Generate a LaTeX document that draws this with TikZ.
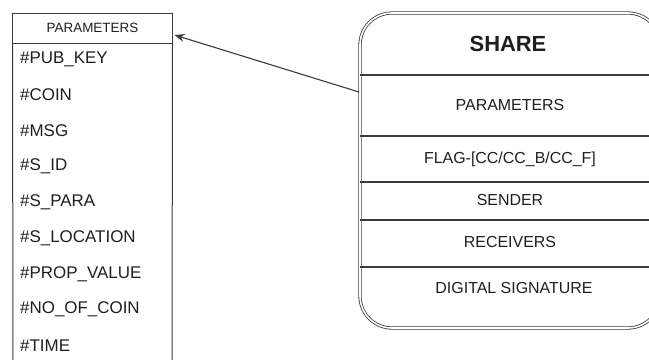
\documentclass[tikz,border=0pt]{standalone}
\usepackage{fontspec}
\setmainfont{Liberation Sans}
\usetikzlibrary{arrows.meta}
\definecolor{linegray}{HTML}{3A3A3A}
\definecolor{textgray}{HTML}{1E1E1E}
\begin{document}
\begin{tikzpicture}[x=1bp,y=-1bp,
  head_node/.style={draw=linegray,line width=1bp,minimum width=159bp,minimum height=30bp,inner sep=0pt,text=textgray,font=\fontsize{13.5}{15}\selectfont},
  item_node/.style={anchor=west,inner sep=0pt,text=textgray,font=\fontsize{17}{19}\selectfont},
  share_box/.style={draw=linegray,double=white,double distance=1.6bp,line width=0.8bp,rounded corners=32bp,minimum width=300bp,minimum height=315bp,inner sep=0pt},
  row_node/.style={inner sep=0pt,text=textgray,font=\fontsize{16}{18}\selectfont},
  row_line/.style={draw=linegray,line width=1.1bp}]

     \useasboundingbox (0,0) rectangle (649,359);

     % parameter table
     \node[head_node] (params_head) at (92.5,28) {PARAMETERS};
     \draw[linegray,line width=1bp] (params_head.south west) -- (13,362);
     \draw[linegray,line width=1bp] (params_head.south east) -- (172,362);
     \foreach \name [count=\i from 0] in {PUB\_KEY,COIN,MSG,S\_ID,S\_PARA,S\_LOCATION,PROP\_VALUE,NO\_OF\_COIN,TIME}
       \node[item_node] (item\i) at (20,{59+35.8*\i}) {\#\name};

     % share message
     \node[share_box] (share) at (510,170.5) {};
     \foreach \y in {75,136,182,220,267}
       \path[row_line] (share.west |- 0,\y) -- (share.east |- 0,\y);
     \node[text=textgray,font=\fontsize{22}{24}\selectfont\bfseries] (share_title) at (508,44) {SHARE};
     \node[row_node] (row1) at (510,105) {PARAMETERS};
     \node[row_node] (row2) at (510,159) {FLAG-[CC/CC\_B/CC\_F]};
     \node[row_node] (row3) at (510,200) {SENDER};
     \node[row_node] (row4) at (510,242) {RECEIVERS};
     \node[row_node] (row5) at (514,288) {DIGITAL SIGNATURE};

     \coordinate (share_in) at (359,92);
     \draw[-{Stealth[length=10bp,width=8bp]},linegray,line width=1.1bp] (share_in) -- ([xshift=2bp,yshift=-7bp]params_head.east);
\end{tikzpicture}
\end{document}
